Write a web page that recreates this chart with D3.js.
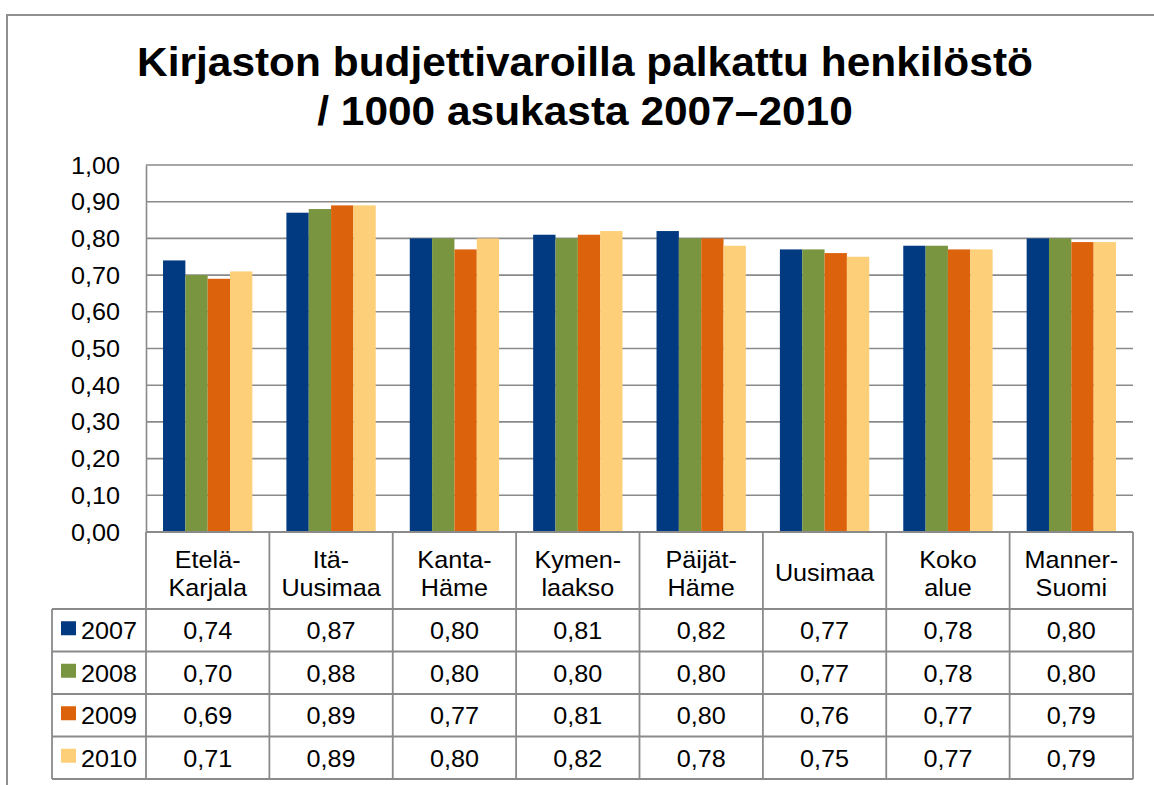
<!DOCTYPE html>
<html><head><meta charset="utf-8">
<script src="https://cdn.jsdelivr.net/npm/d3@7"></script>
<style>
html,body{margin:0;padding:0;background:#fff;}
svg{display:block;font-family:"Liberation Sans",Arial,sans-serif;}
</style></head>
<body><svg id="chart" width="1154" height="785"></svg>
<script>
const titleLines = ["Kirjaston budjettivaroilla palkattu henkilöstö", "/ 1000 asukasta 2007–2010"];
const categories = [["Etelä-","Karjala"],["Itä-","Uusimaa"],["Kanta-","Häme"],["Kymen-","laakso"],["Päijät-","Häme"],["Uusimaa"],["Koko","alue"],["Manner-","Suomi"]];
const seriesNames = ["2007","2008","2009","2010"];
const seriesColors = ["#013A81","#79953F","#DC630C","#FDCF79"];
const v2007 = [0.74,0.87,0.80,0.81,0.82,0.77,0.78,0.80];
const v2008 = [0.70,0.88,0.80,0.80,0.80,0.77,0.78,0.80];
const v2009 = [0.69,0.89,0.77,0.81,0.80,0.76,0.77,0.79];
const v2010 = [0.71,0.89,0.80,0.82,0.78,0.75,0.77,0.79];
const yTicks = [0,0.1,0.2,0.3,0.4,0.5,0.6,0.7,0.8,0.9,1.0];
const seriesValues = [v2007,v2008,v2009,v2010];

const svg = d3.select("#chart");
const grid = "#8a8a8a";
const L = 146, R = 1133, T = 165, B = 532;
const fmt = v => d3.format(".2f")(v).replace(".", ",");
const FS = 24, SX = 1.05;

function addText(g, x, y, str, size, anchor, sx, bold){
  return g.append("text").attr("transform",`translate(${x},${y}) scale(${sx},1)`)
    .attr("text-anchor",anchor).attr("font-size",size).attr("fill","#000")
    .attr("font-weight",bold?"bold":null).text(str);
}

// outer frame
svg.append("path").attr("d","M7,800 L7,15 L1170,15").attr("fill","none").attr("stroke","#8f8f8f").attr("stroke-width",2);

// title
titleLines.forEach((t,i)=>addText(svg, 585, 76+i*49, t, 41, "middle", 1.035, true));

const catIdx = d3.range(categories.length);
const x = d3.scaleBand().domain(catIdx).range([L,R]).padding(0);
const bw = x.bandwidth();
const xs = d3.scaleBand().domain(d3.range(seriesNames.length)).range([bw*0.138, bw*0.862]).padding(0);
const y = d3.scaleLinear().domain([0,1]).range([B,T]);

// gridlines
svg.append("g").selectAll("line").data(yTicks).join("line")
  .attr("x1",L).attr("x2",R).attr("y1",d=>y(d)).attr("y2",d=>y(d))
  .attr("stroke",grid).attr("stroke-width",1.6);

// y axis (domain line via d3 axis, labels drawn scaled)
const yAxis = d3.axisLeft(y).tickValues(yTicks).tickFormat("").tickSize(0);
const ya = svg.append("g").attr("transform",`translate(${L},0)`).call(yAxis);
ya.select(".domain").attr("stroke",grid).attr("stroke-width",1.6);
const yl = svg.append("g");
yTicks.forEach(t=>addText(yl, 120, y(t)+8.5, fmt(t), FS, "end", SX));

// bars
const groups = svg.append("g").selectAll("g").data(catIdx).join("g").attr("transform",i=>`translate(${x(i)},0)`);
groups.selectAll("rect").data(i=>seriesValues.map((s,k)=>({k, v:s[i]}))).join("rect")
  .attr("x",d=>xs(d.k)).attr("width",xs.bandwidth())
  .attr("y",d=>y(d.v)).attr("height",d=>y(0)-y(d.v))
  .attr("fill",d=>seriesColors[d.k]);

// data table
const headB = 609, rowH = 42.5, tabL = 52;
const rowY = d3.range(seriesNames.length+1).map(r=>headB + r*rowH);
const tg = svg.append("g").attr("stroke",grid).attr("stroke-width",1.8).attr("fill","none");
tg.append("line").attr("x1",L).attr("x2",R).attr("y1",B).attr("y2",B);
rowY.forEach(yy=>tg.append("line").attr("x1",tabL).attr("x2",R).attr("y1",yy).attr("y2",yy));
d3.range(categories.length+1).forEach(i=>{
  const xx = i<categories.length ? x(i) : R;
  tg.append("line").attr("x1",xx).attr("x2",xx).attr("y1",B).attr("y2",rowY[rowY.length-1]);
});
tg.append("line").attr("x1",tabL).attr("x2",tabL).attr("y1",headB).attr("y2",rowY[rowY.length-1]);

// category labels
const cl = svg.append("g");
categories.forEach((c,i)=>{
  const cx = x(i)+bw/2;
  if(c.length===1){
    addText(cl, cx, 581, c[0], FS, "middle", SX);
  } else {
    c.forEach((s,j)=>addText(cl, cx, 568+j*27.5, s, FS, "middle", SX));
  }
});

// rows
const rg = svg.append("g");
seriesNames.forEach((n,k)=>{
  const cy = rowY[k] + rowH/2;
  rg.append("rect").attr("x",61).attr("y",cy-9).attr("width",15).attr("height",14).attr("fill",seriesColors[k]);
  addText(rg, 81, cy+9, n, FS, "start", SX);
  seriesValues[k].forEach((v,i)=>addText(rg, x(i)+bw/2, cy+9, fmt(v), FS, "middle", SX));
});
</script></body></html>
